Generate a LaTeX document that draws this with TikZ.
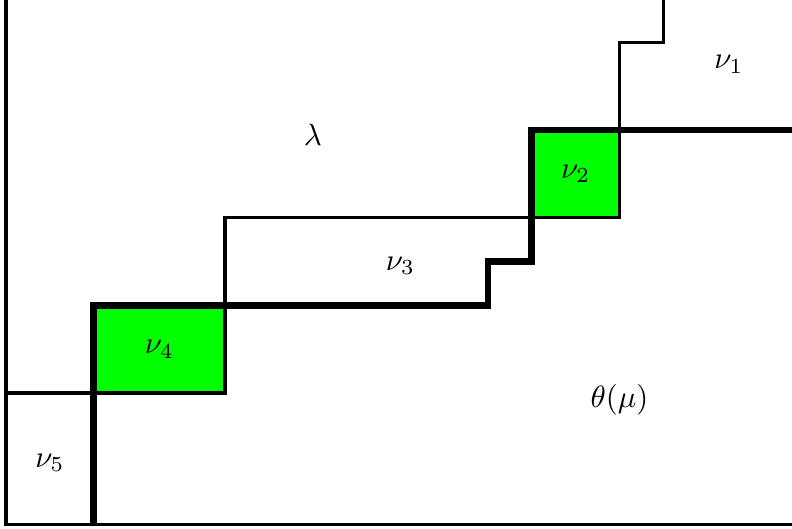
\documentclass[tikz,border=0pt]{standalone}
\usepackage{amsmath}
\usepackage{amssymb}
\usepackage{tikz}
\usetikzlibrary{positioning}
\definecolor{colorcell}{HTML}{00FF00}
\tikzset{
  edgethin/.style={black, line width=1.1pt},
  edgethick/.style={black, line width=2.2pt},
  cellfill/.style={fill=colorcell}
}

\begin{document}
\begin{tikzpicture}[x=0.5cm, y=0.5cm, inner sep=1pt]
\useasboundingbox (-0.14,-0.1) rectangle (17.94,11.97);
\fill[cellfill] (12,7) rectangle (14,9);
\fill[cellfill] (2,3) rectangle (5,5);
\draw[edgethin] (0,0) rectangle (18,12);
\draw[edgethin] (15,12) -- (15,11) -- (14,11) -- (14,7) -- (5,7) -- (5,3) -- (0,3);
\draw[edgethick] (18,9) -- (12,9) -- (12,6) -- (11,6) -- (11,5) -- (2,5) -- (2,0);
\node (l) at (7,8.9) {$\lambda$};
\node (a) at (16.5,10.5) {$\nu_1$};
\node (b) at (13,8) {$\nu_2$};
\node (c) at (9,5.9) {$\nu_3$};
\node (d) at (3.5,4) {$\nu_4$};
\node (e) at (1,1.4) {$\nu_5$};
\node (t) at (14,2.85) {$\theta(\mu)$};
\end{tikzpicture}
\end{document}
